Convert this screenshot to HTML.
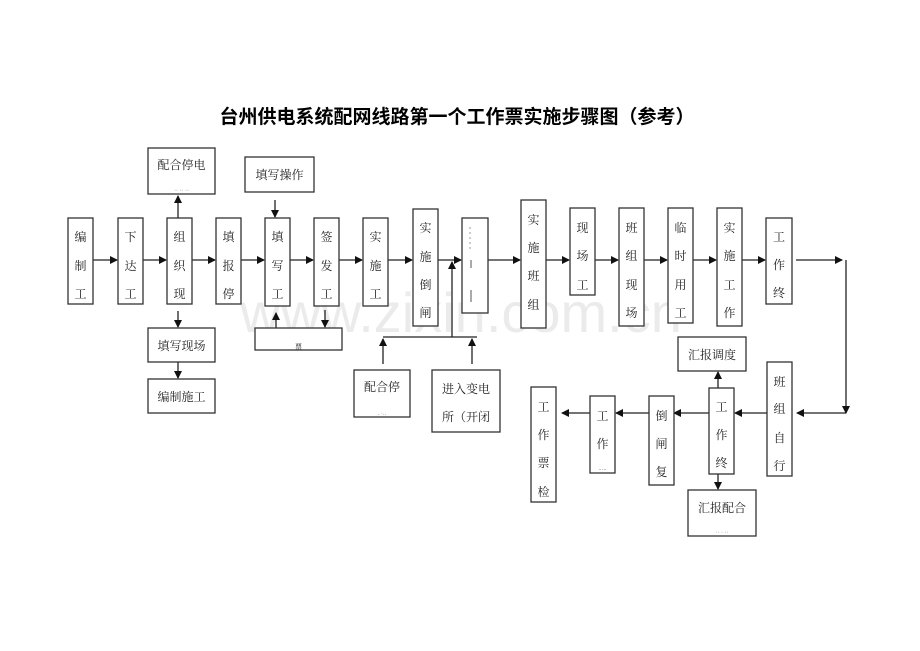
<!DOCTYPE html>
<html><head><meta charset="utf-8"><style>
html,body{margin:0;padding:0;background:#fff;}
svg{display:block;}
text{font-family:"Liberation Serif","Noto Serif CJK SC","Noto Sans CJK SC",serif;font-size:12px;fill:#222;}
.t{font-family:"Liberation Sans","Noto Sans CJK SC",sans-serif;font-size:19px;font-weight:bold;fill:#000;}
.wm{font-family:"Liberation Sans",sans-serif;font-size:56px;fill:#ebebeb;}
rect{fill:#fff;stroke:#333;stroke-width:1.3;}
line{stroke:#222;stroke-width:1.3;}
</style></head><body>
<svg width="920" height="651" viewBox="0 0 920 651" xmlns="http://www.w3.org/2000/svg">
<defs><marker id="a" markerWidth="8" markerHeight="8" refX="7" refY="4" orient="auto" markerUnits="userSpaceOnUse"><path d="M0,0 L8,4 L0,8 z" fill="#111"/></marker></defs>
<text class="t" x="457" y="123" text-anchor="middle">台州供电系统配网线路第一个工作票实施步骤图（参考）</text>
<text class="wm" x="240" y="332">www.zixin.com.cn</text>

<g>
<line x1="90" y1="260" x2="117" y2="260" marker-end="url(#a)"/>
<line x1="143" y1="260" x2="166" y2="260" marker-end="url(#a)"/>
<line x1="192" y1="260" x2="215" y2="260" marker-end="url(#a)"/>
<line x1="241" y1="260" x2="264" y2="260" marker-end="url(#a)"/>
<line x1="290" y1="260" x2="313" y2="260" marker-end="url(#a)"/>
<line x1="339" y1="260" x2="362" y2="260" marker-end="url(#a)"/>
<line x1="388" y1="260" x2="412" y2="260" marker-end="url(#a)"/>
<line x1="438" y1="260" x2="461" y2="260" marker-end="url(#a)"/>
<line x1="488" y1="260" x2="520" y2="260" marker-end="url(#a)"/>
<line x1="546" y1="260" x2="569" y2="260" marker-end="url(#a)"/>
<line x1="595" y1="260" x2="618" y2="260" marker-end="url(#a)"/>
<line x1="644" y1="260" x2="667" y2="260" marker-end="url(#a)"/>
<line x1="693" y1="260" x2="716" y2="260" marker-end="url(#a)"/>
<line x1="742" y1="260" x2="765" y2="260" marker-end="url(#a)"/>
<line x1="796" y1="260" x2="842" y2="260" marker-end="url(#a)"/>
<line x1="846" y1="260" x2="846" y2="413" marker-end="url(#a)"/>
<line x1="846" y1="413" x2="797" y2="413" marker-end="url(#a)"/>
<line x1="767" y1="413" x2="735" y2="413" marker-end="url(#a)"/>
<line x1="709" y1="413" x2="674" y2="413" marker-end="url(#a)"/>
<line x1="649" y1="413" x2="616" y2="413" marker-end="url(#a)"/>
<line x1="590" y1="413" x2="562" y2="413" marker-end="url(#a)"/>
<line x1="178" y1="218" x2="178" y2="196" marker-end="url(#a)"/>
<line x1="275" y1="200" x2="275" y2="217" marker-end="url(#a)"/>
<line x1="178" y1="311" x2="178" y2="327" marker-end="url(#a)"/>
<line x1="178" y1="362" x2="178" y2="378" marker-end="url(#a)"/>
<line x1="276" y1="328" x2="276" y2="313" marker-end="url(#a)"/>
<line x1="325" y1="310" x2="325" y2="327" marker-end="url(#a)"/>
<line x1="383" y1="364" x2="383" y2="339" marker-end="url(#a)"/>
<line x1="383" y1="337" x2="477" y2="337"/>
<line x1="452" y1="337" x2="452" y2="262" marker-end="url(#a)"/>
<line x1="472" y1="364" x2="472" y2="339" marker-end="url(#a)"/>
<line x1="718" y1="388" x2="718" y2="372" marker-end="url(#a)"/>
<line x1="718" y1="474" x2="718" y2="489" marker-end="url(#a)"/>
</g>

<g text-anchor="middle">
<rect x="68" y="218" width="25" height="86"/><text x="80.5" y="241">编</text><text x="80.5" y="270">制</text><text x="80.5" y="298">工</text>
<rect x="118" y="218" width="25" height="86"/><text x="130.5" y="241">下</text><text x="130.5" y="270">达</text><text x="130.5" y="298">工</text>
<rect x="167" y="218" width="25" height="86"/><text x="179.5" y="241">组</text><text x="179.5" y="270">织</text><text x="179.5" y="298">现</text>
<rect x="216" y="218" width="25" height="86"/><text x="228.5" y="241">填</text><text x="228.5" y="270">报</text><text x="228.5" y="298">停</text>
<rect x="265" y="218" width="25" height="88"/><text x="277.5" y="241">填</text><text x="277.5" y="270">写</text><text x="277.5" y="298">工</text>
<rect x="314" y="218" width="25" height="88"/><text x="326.5" y="241">签</text><text x="326.5" y="270">发</text><text x="326.5" y="298">工</text>
<rect x="363" y="218" width="25" height="88"/><text x="375.5" y="241">实</text><text x="375.5" y="270">施</text><text x="375.5" y="298">工</text>
<rect x="413" y="209" width="25" height="117"/><text x="425.5" y="232">实</text><text x="425.5" y="261">施</text><text x="425.5" y="289">倒</text><text x="425.5" y="317">闸</text>
<rect x="462" y="218" width="26" height="95"/>
<line x1="470" y1="227" x2="470" y2="250" style="stroke:#999;stroke-width:1;stroke-dasharray:2 3"/><line x1="471" y1="260" x2="471" y2="268" style="stroke:#555;stroke-width:1"/><line x1="471" y1="290" x2="471" y2="302" style="stroke:#555;stroke-width:1"/>
<rect x="521" y="200" width="25" height="128"/><text x="533.5" y="224">实</text><text x="533.5" y="252">施</text><text x="533.5" y="280">班</text><text x="533.5" y="309">组</text>
<rect x="570" y="208" width="25" height="87"/><text x="582.5" y="232">现</text><text x="582.5" y="260">场</text><text x="582.5" y="289">工</text>
<rect x="619" y="208" width="25" height="118"/><text x="631.5" y="232">班</text><text x="631.5" y="260">组</text><text x="631.5" y="289">现</text><text x="631.5" y="317">场</text>
<rect x="668" y="208" width="25" height="115"/><text x="680.5" y="232">临</text><text x="680.5" y="260">时</text><text x="680.5" y="289">用</text><text x="680.5" y="317">工</text>
<rect x="717" y="208" width="25" height="118"/><text x="729.5" y="232">实</text><text x="729.5" y="260">施</text><text x="729.5" y="289">工</text><text x="729.5" y="317">作</text>
<rect x="766" y="218" width="26" height="86"/><text x="779" y="241">工</text><text x="779" y="269">作</text><text x="779" y="297">终</text>

<rect x="148" y="148" width="67" height="46"/><text x="181.5" y="169">配合停电</text><text x="181.5" y="192" style="font-size:6px;fill:#777">··  ··  ··</text>
<rect x="245" y="157" width="69" height="35"/><text x="279.5" y="179">填写操作</text>
<rect x="148" y="328" width="67" height="34"/><text x="181.5" y="350">填写现场</text>
<rect x="148" y="379" width="67" height="34"/><text x="181.5" y="401">编制施工</text>
<rect x="255" y="328" width="87" height="22"/><text x="298.5" y="349" style="font-size:7px">票 </text>
<rect x="354" y="370" width="56" height="47"/><text x="382" y="391">配合停</text><text x="382" y="415" style="font-size:6px;fill:#777">. ·..</text>
<rect x="432" y="370" width="68" height="62"/><text x="466" y="393">进入变电</text><text x="466" y="421">所（开闭</text>

<rect x="767" y="362" width="25" height="114"/><text x="779.5" y="386">班</text><text x="779.5" y="413">组</text><text x="779.5" y="442">自</text><text x="779.5" y="470">行</text>
<rect x="709" y="388" width="25" height="86"/><text x="721.5" y="411">工</text><text x="721.5" y="439">作</text><text x="721.5" y="467">终</text>
<rect x="678" y="337" width="68" height="34"/><text x="712" y="359">汇报调度</text>
<rect x="688" y="490" width="68" height="46"/><text x="722" y="512">汇报配合</text><text x="722" y="534" style="font-size:6px;fill:#777">·· · ··</text>
<rect x="649" y="396" width="25" height="89"/><text x="661.5" y="420">倒</text><text x="661.5" y="448">闸</text><text x="661.5" y="476">复</text>
<rect x="590" y="396" width="25" height="77"/><text x="602.5" y="420">工</text><text x="602.5" y="448">作</text><text x="602.5" y="471" style="font-size:5px">·····</text>
<rect x="531" y="387" width="25" height="115"/><text x="543.5" y="411">工</text><text x="543.5" y="439">作</text><text x="543.5" y="467">票</text><text x="543.5" y="496">检</text>
</g>
</svg>
</body></html>
